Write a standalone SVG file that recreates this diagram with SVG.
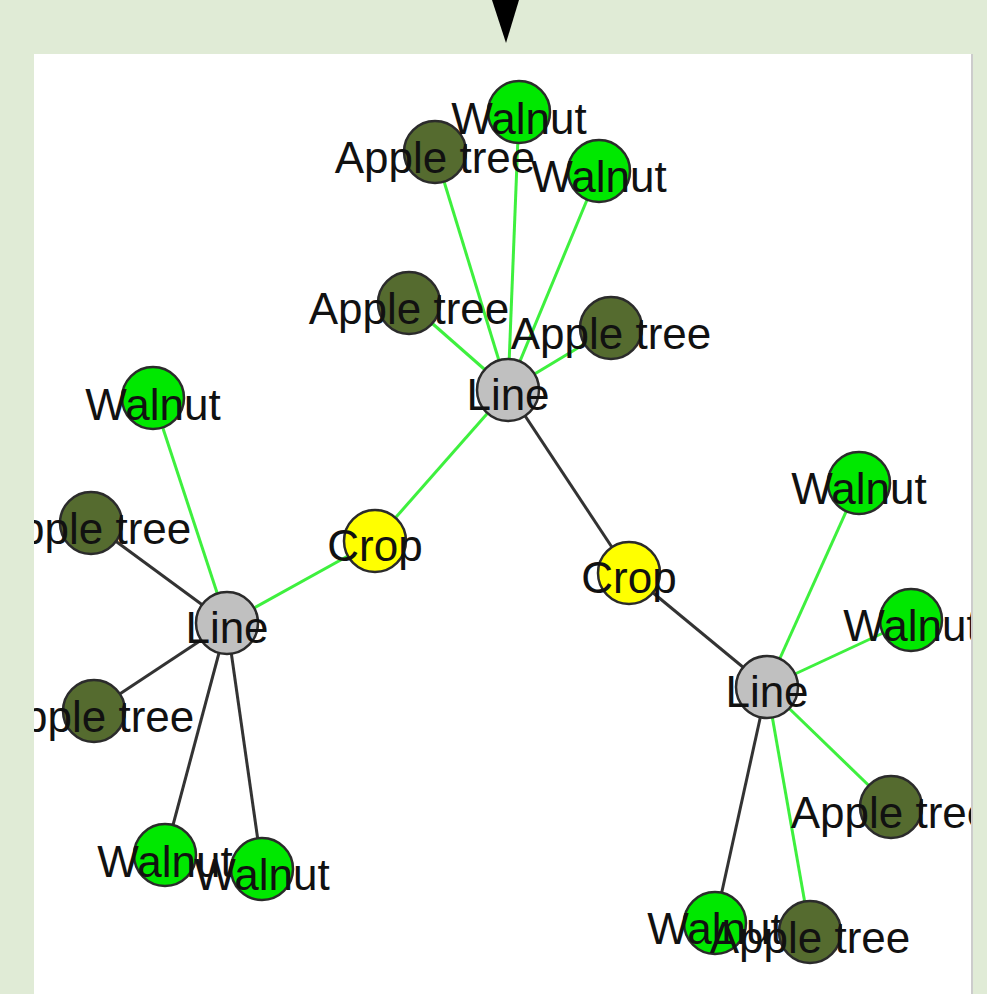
<svg xmlns="http://www.w3.org/2000/svg" width="987" height="994" viewBox="0 0 987 994">
<style>
.bg{fill:#e0ebd6}
.panel{fill:#ffffff}
.eg{stroke:#3ef03e;stroke-width:3;fill:none}
.ek{stroke:#333333;stroke-width:3;fill:none}
circle{stroke:#2b2b2b;stroke-width:2.5}
.walnut{fill:#00e800}
.apple{fill:#556b2f}
.line{fill:#c0c0c0}
.crop{fill:#ffff00}
text{font-family:"Liberation Sans",Arial,sans-serif;font-size:44px;fill:#111;text-anchor:middle}
</style>
<defs>
<clipPath id="pc"><rect x="34" y="54" width="937" height="940"/></clipPath>
</defs>
<rect class="bg" x="0" y="0" width="987" height="994"/>
<rect class="panel" x="34" y="54" width="937" height="940"/>
<rect x="971" y="54" width="2" height="940" fill="#cccccc"/>
<polygon points="492,0 519,0 506,43" fill="#000"/>
<g clip-path="url(#pc)">
<g id="connectors">
<line class="eg" x1="508" y1="390" x2="519" y2="112"/>
<line class="eg" x1="508" y1="390" x2="435" y2="152"/>
<line class="eg" x1="508" y1="390" x2="599" y2="171"/>
<line class="eg" x1="508" y1="390" x2="409" y2="303"/>
<line class="eg" x1="508" y1="390" x2="611" y2="328"/>
<line class="eg" x1="508" y1="390" x2="375" y2="541"/>
<line class="ek" x1="508" y1="390" x2="629" y2="573"/>
<line class="eg" x1="375" y1="541" x2="227" y2="623"/>
<line class="ek" x1="629" y1="573" x2="767" y2="687"/>
<line class="eg" x1="227" y1="623" x2="153" y2="398"/>
<line class="ek" x1="227" y1="623" x2="91" y2="523"/>
<line class="ek" x1="227" y1="623" x2="94" y2="711"/>
<line class="ek" x1="227" y1="623" x2="165" y2="855"/>
<line class="ek" x1="227" y1="623" x2="262" y2="869"/>
<line class="eg" x1="767" y1="687" x2="859" y2="483"/>
<line class="eg" x1="767" y1="687" x2="911" y2="620"/>
<line class="eg" x1="767" y1="687" x2="891" y2="807"/>
<line class="ek" x1="767" y1="687" x2="715" y2="923"/>
<line class="eg" x1="767" y1="687" x2="810" y2="932"/>
</g>
<g id="n-apple-t2"><circle class="apple" cx="435" cy="152" r="31"/><text x="435" y="173">Apple tree</text></g>
<g id="n-walnut-t1"><circle class="walnut" cx="519" cy="112" r="31"/><text x="519" y="134">Walnut</text></g>
<g id="n-walnut-t3"><circle class="walnut" cx="599" cy="171" r="31"/><text x="599" y="192">Walnut</text></g>
<g id="n-apple-t4"><circle class="apple" cx="409" cy="303" r="31"/><text x="409" y="324">Apple tree</text></g>
<g id="n-apple-t5"><circle class="apple" cx="611" cy="328" r="31"/><text x="611" y="349">Apple tree</text></g>
<g id="n-line-top"><circle class="line" cx="508" cy="390" r="31"/><text x="508" y="410">Line</text></g>
<g id="n-crop-left"><circle class="crop" cx="375" cy="541" r="31"/><text x="375" y="561">Crop</text></g>
<g id="n-crop-right"><circle class="crop" cx="629" cy="573" r="31"/><text x="629" y="593">Crop</text></g>
<g id="n-walnut-l1"><circle class="walnut" cx="153" cy="398" r="31"/><text x="153" y="420">Walnut</text></g>
<g id="n-apple-l2"><circle class="apple" cx="91" cy="523" r="31"/><text x="91" y="544">Apple tree</text></g>
<g id="n-line-left"><circle class="line" cx="227" cy="623" r="31"/><text x="227" y="643">Line</text></g>
<g id="n-apple-l3"><circle class="apple" cx="94" cy="711" r="31"/><text x="94" y="732">Apple tree</text></g>
<g id="n-walnut-l4"><circle class="walnut" cx="165" cy="855" r="31"/><text x="165" y="877">Walnut</text></g>
<g id="n-walnut-l5"><circle class="walnut" cx="262" cy="869" r="31"/><text x="262" y="890">Walnut</text></g>
<g id="n-walnut-r1"><circle class="walnut" cx="859" cy="483" r="31"/><text x="859" y="504">Walnut</text></g>
<g id="n-walnut-r2"><circle class="walnut" cx="911" cy="620" r="31"/><text x="911" y="641">Walnut</text></g>
<g id="n-line-right"><circle class="line" cx="767" cy="687" r="31"/><text x="767" y="707">Line</text></g>
<g id="n-apple-r3"><circle class="apple" cx="891" cy="807" r="31"/><text x="891" y="828">Apple tree</text></g>
<g id="n-walnut-r4"><circle class="walnut" cx="715" cy="923" r="31"/><text x="715" y="944">Walnut</text></g>
<g id="n-apple-r5"><circle class="apple" cx="810" cy="932" r="31"/><text x="810" y="953">Apple tree</text></g>
</g>
</svg>
